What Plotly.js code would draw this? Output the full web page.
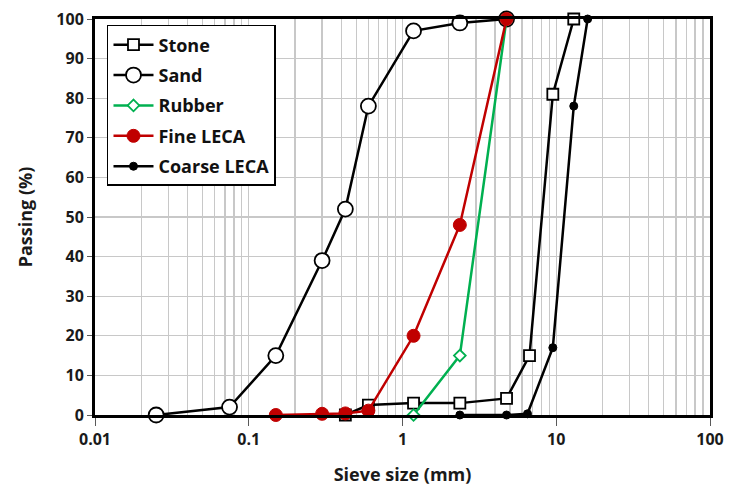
<!DOCTYPE html>
<html><head><meta charset="utf-8">
<script src="https://cdn.plot.ly/plotly-3.0.1.min.js"></script>
<style>html,body{margin:0;padding:0;background:#fff}#c{width:729px;height:491px}</style>
</head><body><div id="c"></div>
<script>
const stoneX = [0.425, 0.6, 1.18, 2.36, 4.75, 6.7, 9.5, 13];
const stoneY = [0, 2.5, 3, 3, 4.2, 15, 81, 100];
const sandX = [0.025, 0.075, 0.15, 0.3, 0.425, 0.6, 1.18, 2.36, 4.75];
const sandY = [0, 2, 15, 39, 52, 78, 97, 99, 100];
const rubberX = [1.18, 2.36, 4.75];
const rubberY = [0, 15, 100];
const fineX = [0.15, 0.3, 0.425, 0.6, 1.18, 2.36, 4.75];
const fineY = [0, 0.3, 0.4, 1.1, 20, 48, 100];
const coarseX = [2.36, 4.75, 6.5, 9.5, 13, 16];
const coarseY = [0, 0, 0.3, 17, 78, 100];
const xTickVals = [0.01, 0.1, 1, 10, 100];
const xTickText = ["0.01", "0.1", "1", "10", "100"];

const FONT = "Open Sans, sans-serif";
const traces = [
  {name: "Stone", x: stoneX, y: stoneY, legendgroup: "a",
   line: {color: "#000", width: 2.5},
   marker: {symbol: "square", size: 11, color: "#fff", line: {color: "#000", width: 1.8}}},
  {name: "Sand", x: sandX, y: sandY, legendgroup: "b",
   line: {color: "#000", width: 2.5},
   marker: {symbol: "circle", size: 15, color: "#fff", line: {color: "#000", width: 1.8}}},
  {name: "Rubber", x: rubberX, y: rubberY, legendgroup: "c",
   line: {color: "#00B050", width: 2.5},
   marker: {symbol: "diamond", size: 9, color: "#fff", line: {color: "#00B050", width: 1.8}}},
  {name: "Fine LECA", x: fineX, y: fineY, legendgroup: "d",
   line: {color: "#C00000", width: 2.5},
   marker: {symbol: "circle", size: 13, color: "#C00000", line: {color: "#C00000", width: 1}}},
  {name: "Coarse LECA", x: coarseX, y: coarseY, legendgroup: "e",
   line: {color: "#000", width: 2.5},
   marker: {symbol: "circle", size: 8, color: "#000", line: {color: "#000", width: 1}}}
].map(t => Object.assign({type: "scatter", mode: "lines+markers", cliponaxis: false}, t));

const layout = {
  width: 729, height: 491,
  margin: {l: 95, r: 19, t: 19, b: 76},
  paper_bgcolor: "#fff", plot_bgcolor: "#fff",
  font: {family: FONT, color: "#262626"},
  showlegend: true,
  legend: {x: 0.0195, y: 0.985, xanchor: "left", yanchor: "top",
    bgcolor: "#fff", bordercolor: "#000", borderwidth: 1.5,
    font: {family: FONT, size: 18, color: "#111", weight: "bold"},
    tracegroupgap: 4, traceorder: "grouped", itemwidth: 40},
  xaxis: {type: "log", range: [-2, 2],
    tickvals: xTickVals, ticktext: xTickText,
    tickfont: {family: FONT, size: 16, weight: "bold", color: "#1a1a1a"},
    showgrid: true, gridcolor: "#c8c8c8", gridwidth: 1.3,
    minor: {dtick: "D1", showgrid: true, gridcolor: "#c8c8c8", gridwidth: 1.3, ticks: ""},
    ticks: "outside", ticklen: 8, tickcolor: "#595959", tickwidth: 1,
    showline: true, linecolor: "#000", linewidth: 3, mirror: true, zeroline: false,
    title: {text: "Sieve size (mm)", font: {family: FONT, size: 18, weight: "bold", color: "#1a1a1a"}, standoff: 20}},
  yaxis: {range: [0, 100], dtick: 10, tick0: 0,
    tickfont: {family: FONT, size: 16, weight: "bold", color: "#1a1a1a"},
    showgrid: true, gridcolor: "#c8c8c8", gridwidth: 1.3,
    ticks: "outside", ticklen: 5, tickcolor: "#595959", tickwidth: 1,
    showline: true, linecolor: "#000", linewidth: 3, mirror: true, zeroline: false,
    title: {text: "Passing (%)", font: {family: FONT, size: 18, weight: "bold", color: "#1a1a1a"}, standoff: 20}}
};
Plotly.newPlot("c", traces, layout, {displayModeBar: false, staticPlot: true});
</script></body></html>
